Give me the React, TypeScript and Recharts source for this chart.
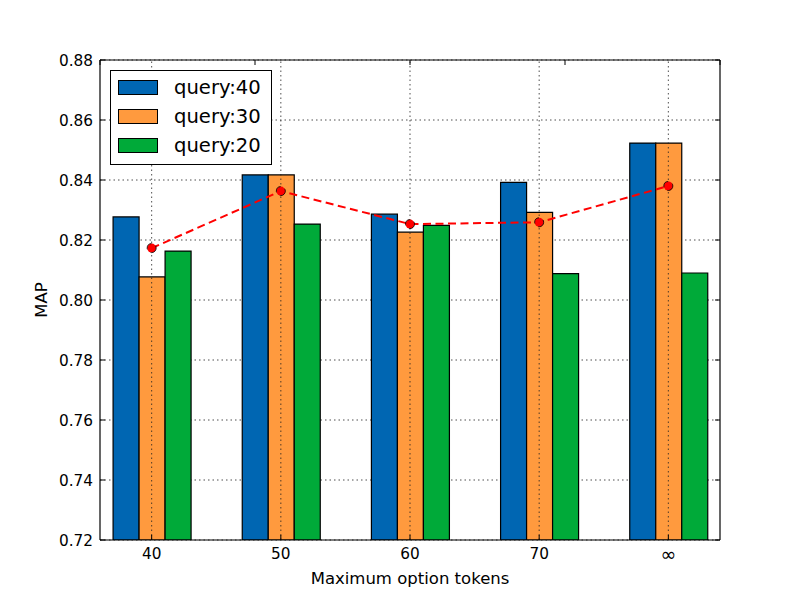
import React from "react";
import {
  ComposedChart,
  Bar,
  Line,
  XAxis,
  YAxis,
  CartesianGrid,
  ReferenceLine,
  Legend,
} from "recharts";

// values (MAP per max option tokens)
const categories = ["40", "50", "60", "70", "∞"];
const query40 = [0.8277, 0.8417, 0.8286, 0.8392, 0.8523];
const query30 = [0.8077, 0.8417, 0.8226, 0.8292, 0.8523];
const query20 = [0.8163, 0.8253, 0.8249, 0.8088, 0.809];
const meanLine = [0.8173, 0.8363, 0.8253, 0.8259, 0.838];
const yTicks = [0.72, 0.74, 0.76, 0.78, 0.8, 0.82, 0.84, 0.86, 0.88];
const xTicks = [0, 1, 2, 3, 4];

const BLUE = "#0066b2";
const ORANGE = "#ff9a3e";
const GREEN = "#00aa39";
const FONT = "'DejaVu Sans', sans-serif";

const series = [
  { key: "q40", name: "query:40", color: BLUE },
  { key: "q30", name: "query:30", color: ORANGE },
  { key: "q20", name: "query:20", color: GREEN },
];

const data = categories.map((c, i) => ({
  x: i,
  label: c,
  q40: query40[i],
  q30: query30[i],
  q20: query20[i],
  mean: meanLine[i],
}));

const grid = { stroke: "#222", strokeWidth: 0.8, strokeDasharray: "1.5 3" };

function BottomTick(p: any) {
  const label = categories[p.payload.value];
  const inf = label === "∞";
  return (
    <g>
      <line x1={p.x} x2={p.x} y1={p.y} y2={p.y - 5} stroke="#000" />
      <text
        x={p.x}
        y={p.y + (inf ? 21 : 19)}
        textAnchor="middle"
        fontSize={inf ? 19 : 15.3}
        fontFamily={FONT}
        fill="#000"
      >
        {label}
      </text>
    </g>
  );
}

function LeftTick(p: any) {
  return (
    <g>
      <line x1={p.x} x2={p.x + 5} y1={p.y} y2={p.y} stroke="#000" />
      <text x={p.x - 7} y={p.y + 5.5} textAnchor="end" fontSize={15.3} fontFamily={FONT} fill="#000">
        {Number(p.payload.value).toFixed(2)}
      </text>
    </g>
  );
}

function TopTick(p: any) {
  return <line x1={p.x} x2={p.x} y1={p.y} y2={p.y + 5} stroke="#000" />;
}

function RightTick(p: any) {
  return <line x1={p.x - 5} x2={p.x} y1={p.y} y2={p.y} stroke="#000" />;
}

function LegendBox() {
  return (
    <div
      style={{
        width: 160,
        height: 91,
        border: "1px solid #000",
        background: "#fff",
        paddingTop: 2,
        fontFamily: FONT,
        fontSize: 19.6,
      }}
    >
      {series.map((s) => (
        <div key={s.key} style={{ display: "flex", alignItems: "center", height: 29 }}>
          <div
            style={{
              width: 38,
              height: 13,
              marginLeft: 7,
              marginRight: 16,
              background: s.color,
              border: "1px solid #000",
            }}
          />
          <span style={{ lineHeight: "29px" }}>{s.name}</span>
        </div>
      ))}
    </div>
  );
}

export default function App() {
  return (
    <div style={{ position: "relative", width: 800, height: 600, background: "#fff" }}>
      <style>{`body{margin:0}`}</style>
      <ComposedChart
        width={800}
        height={600}
        data={data}
        margin={{ top: 0, right: 0, bottom: 0, left: 0 }}
        barGap={0}
      >
        <CartesianGrid vertical={false} {...grid} />
        <XAxis
          dataKey="x"
          type="number"
          domain={[-0.4, 4.4]}
          ticks={xTicks}
          height={60}
          tickSize={0}
          tickMargin={0}
          tick={<BottomTick />}
          axisLine={{ stroke: "#000", strokeWidth: 1.2 }}
          tickLine={false}
          interval={0}
        />
        <XAxis
          xAxisId="top"
          orientation="top"
          type="number"
          domain={[-0.4, 4.4]}
          ticks={xTicks}
          height={60}
          tickSize={0}
          tickMargin={0}
          tick={<TopTick />}
          axisLine={{ stroke: "#000", strokeWidth: 1.2 }}
          tickLine={false}
          interval={0}
          allowDataOverflow
        />
        <YAxis
          type="number"
          domain={[0.72, 0.88]}
          ticks={yTicks}
          width={100}
          tickSize={0}
          tickMargin={0}
          tick={<LeftTick />}
          axisLine={{ stroke: "#000", strokeWidth: 1.2 }}
          tickLine={false}
          interval={0}
          allowDataOverflow
        />
        <YAxis
          yAxisId="right"
          orientation="right"
          type="number"
          domain={[0.72, 0.88]}
          ticks={yTicks}
          width={80}
          tickSize={0}
          tickMargin={0}
          tick={<RightTick />}
          axisLine={{ stroke: "#000", strokeWidth: 1.2 }}
          tickLine={false}
          interval={0}
          allowDataOverflow
        />
        {series.map((s) => (
          <Bar
            key={s.key}
            dataKey={s.key}
            name={s.name}
            fill={s.color}
            stroke="#000"
            strokeWidth={1.2}
            barSize={26}
            isAnimationActive={false}
          />
        ))}
        {xTicks.map((t) => (
          <ReferenceLine key={t} x={t} {...grid} />
        ))}
        <Line
          dataKey="mean"
          type="linear"
          stroke="#ff0000"
          strokeWidth={2}
          strokeDasharray="8 4.5"
          dot={{ r: 4.5, fill: "#ff0000", stroke: "#000", strokeWidth: 0.8 }}
          isAnimationActive={false}
          legendType="none"
        />
        <Legend
          layout="vertical"
          align="center"
          verticalAlign="middle"
          content={<LegendBox />}
          wrapperStyle={{ left: 110, top: 70, width: 162, height: 93 }}
        />
      </ComposedChart>
      <svg
        width={800}
        height={600}
        style={{ position: "absolute", left: 0, top: 0, pointerEvents: "none" }}
      >
        <text x={410} y={584} textAnchor="middle" fontSize={16.5} fontFamily={FONT} fill="#000">
          Maximum option tokens
        </text>
        <text
          x={47}
          y={300}
          textAnchor="middle"
          fontSize={16.5}
          fontFamily={FONT}
          fill="#000"
          transform="rotate(-90 47 300)"
        >
          MAP
        </text>
      </svg>
    </div>
  );
}
